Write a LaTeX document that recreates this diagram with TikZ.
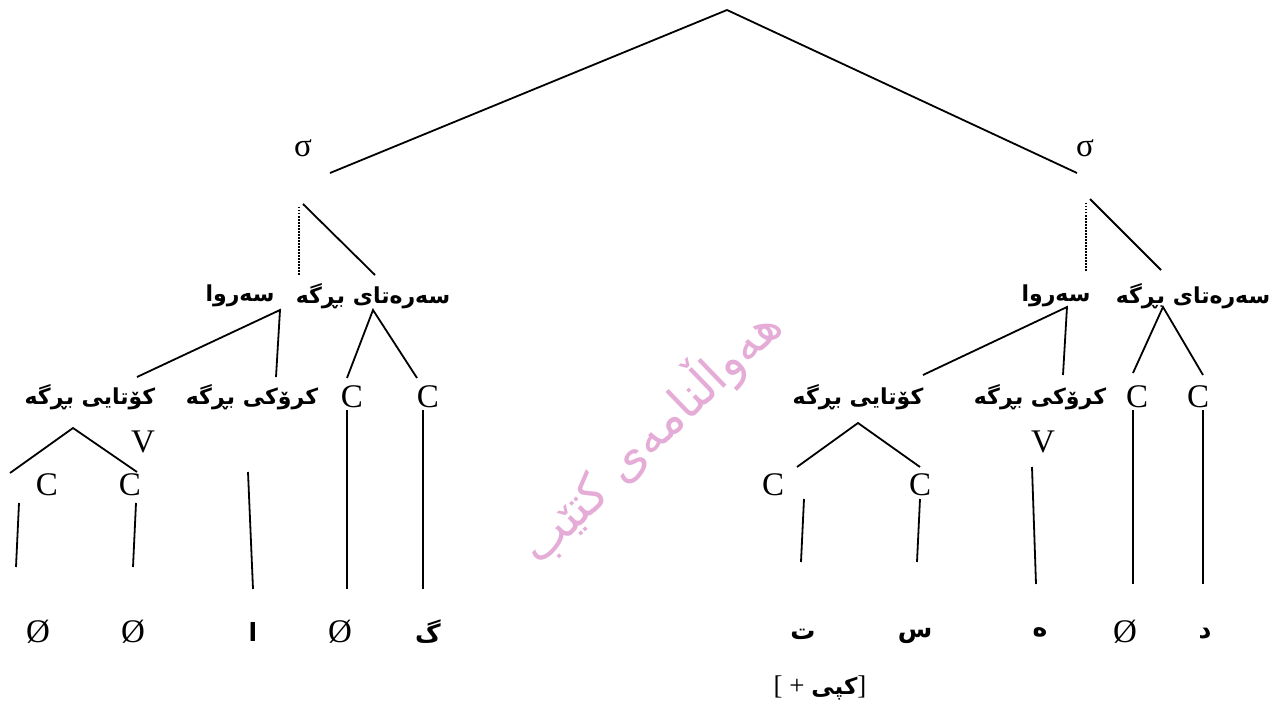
\documentclass[tikz,border=0pt]{standalone}
\usepackage{fontspec}
\setmainfont{Liberation Serif}
\newfontfamily\arabicfont[Script=Arabic]{DejaVu Sans}
\TeXXeTstate=1
\usepackage{tikz}
\usepackage{xcolor}
\definecolor{stamp-pink}{RGB}{228,172,214}
\tikzset{
    seg-letter/.style = {font=\fontsize{33}{36}\selectfont, inner sep=2pt},
    kurd-label/.style = {font=\arabicfont\bfseries\fontsize{22}{26}\selectfont, inner sep=2pt},
    kurd-letter/.style = {font=\arabicfont\bfseries\fontsize{25}{28}\selectfont, inner sep=2pt},
    branch/.style = {draw=black, line width=1.8pt},
    skip-branch/.style = {draw=black, line width=1.8pt, dash pattern=on 1.5pt off 1.5pt},
    stamp-text/.style = {font=\arabicfont\fontsize{49}{52}\selectfont, text=stamp-pink, rotate=44},
}

\begin{document}
\begin{tikzpicture}[x=1pt, y=-1pt]
\useasboundingbox (0,0) rectangle (1270,706);
\node[stamp-text] (stamp) at (650,435) {\beginR هەواڵنامەی کتێب\endR};

% syllables
\coordinate (root) at (727,10);
\node[seg-letter] (sigL) at (303,148) {σ};
\node[seg-letter] (sigR) at (1085,148) {σ};

% onset and rhyme
\node[kurd-label] (rhymeL) at (240,296) {سەروا};
\node[kurd-label] (onsetL) at (373,296) {\beginR سەرەتای بڕگە\endR};
\node[kurd-label] (rhymeR) at (1056,296) {سەروا};
\node[kurd-label] (onsetR) at (1193,296) {\beginR سەرەتای بڕگە\endR};

% coda, nucleus, onset slots
\node[kurd-label] (codaL) at (90,397) {\beginR کۆتایی بڕگە\endR};
\node[kurd-label] (nucL) at (252,397) {\beginR کرۆکی بڕگە\endR};
\node[seg-letter] (onsetL-c1) at (352,397) {C};
\node[seg-letter] (onsetL-c2) at (428,397) {C};
\node[kurd-label] (codaR) at (858,397) {\beginR کۆتایی بڕگە\endR};
\node[kurd-label] (nucR) at (1040,397) {\beginR کرۆکی بڕگە\endR};
\node[seg-letter] (onsetR-c1) at (1137,397) {C};
\node[seg-letter] (onsetR-c2) at (1198,397) {C};

\node[seg-letter] (vL) at (143,442) {V};
\node[seg-letter] (vR) at (1043,442) {V};
\node[seg-letter] (codaL-c1) at (47,485) {C};
\node[seg-letter] (codaL-c2) at (130,485) {C};
\node[seg-letter] (codaR-c1) at (773,485) {C};
\node[seg-letter] (codaR-c2) at (920,485) {C};

% segments
\node[seg-letter] (leafL1) at (38,632) {Ø};
\node[seg-letter] (leafL2) at (133,632) {Ø};
\node[kurd-letter] (leafL3) at (253,632) {ا};
\node[seg-letter] (leafL4) at (340,632) {Ø};
\node[kurd-letter] (leafL5) at (428,632) {گ};
\node[kurd-letter] (leafR1) at (803,634) {ت};
\node[kurd-letter] (leafR2) at (915,636) {س};
\node[kurd-letter] (leafR3) at (1040,632) {ە};
\node[seg-letter] (leafR4) at (1125,632) {Ø};
\node[kurd-letter] (leafR5) at (1205,634) {د};
\node[font=\fontsize{27}{30}\selectfont, inner sep=2pt] (copyR1) at (820,688) {[ + {\arabicfont\bfseries\fontsize{23}{26}\selectfont کپی}]};

% branches
\draw[branch] (root) -- ([shift={(27,25)}]sigL.center);
\draw[branch] (root) -- ([shift={(-8,25)}]sigR.center);
\draw[skip-branch] ([shift={(-4,59)}]sigL.center) -- ([shift={(-4,127)}]sigL.center);
\draw[branch] ([shift={(0,56)}]sigL.center) -- ([shift={(2,-21)}]onsetL.center);
\draw[skip-branch] ([shift={(1,55)}]sigR.center) -- ([shift={(1,124)}]sigR.center);
\draw[branch] ([shift={(5,51)}]sigR.center) -- ([shift={(-32,-26)}]onsetR.center);

\draw[branch] ([shift={(47,-20)}]codaL.center) -- ([shift={(40,14)}]rhymeL.center) -- ([shift={(24,-20)}]nucL.center);
\draw[branch] ([shift={(-5,-19)}]onsetL-c1.center) -- ([shift={(0,14)}]onsetL.center) -- ([shift={(-11,-19)}]onsetL-c2.center);
\draw[branch] ([shift={(65,-22)}]codaR.center) -- ([shift={(11,11)}]rhymeR.center) -- ([shift={(23,-22)}]nucR.center);
\draw[branch] ([shift={(-4,-24)}]onsetR-c1.center) -- ([shift={(-30,11)}]onsetR.center) -- ([shift={(5,-22)}]onsetR-c2.center);

\draw[branch] ([shift={(-37,-12)}]codaL-c1.center) -- ([shift={(-17,31)}]codaL.center) -- ([shift={(7,-13)}]codaL-c2.center);
\draw[branch] ([shift={(24,-18)}]codaR-c1.center) -- ([shift={(0,26)}]codaR.center) -- ([shift={(0,-18)}]codaR-c2.center);

% association lines
\draw[branch] ([shift={(-28,18)}]codaL-c1.center) -- ([shift={(-22,-65)}]leafL1.center);
\draw[branch] ([shift={(6,18)}]codaL-c2.center) -- ([shift={(0,-65)}]leafL2.center);
\draw[branch] ([shift={(-4,75)}]nucL.center) -- ([shift={(0,-43)}]leafL3.center);
\draw[branch] ([shift={(-5,13)}]onsetL-c1.center) -- ([shift={(7,-43)}]leafL4.center);
\draw[branch] ([shift={(-5,13)}]onsetL-c2.center) -- ([shift={(-5,-43)}]leafL5.center);
\draw[branch] ([shift={(31,14)}]codaR-c1.center) -- ([shift={(-2,-72)}]leafR1.center);
\draw[branch] ([shift={(0,14)}]codaR-c2.center) -- ([shift={(2,-74)}]leafR2.center);
\draw[branch] ([shift={(-11,25)}]vR.center) -- ([shift={(-4,-48)}]leafR3.center);
\draw[branch] ([shift={(-4,13)}]onsetR-c1.center) -- ([shift={(8,-48)}]leafR4.center);
\draw[branch] ([shift={(5,13)}]onsetR-c2.center) -- ([shift={(-2,-50)}]leafR5.center);
\end{tikzpicture}
\end{document}
